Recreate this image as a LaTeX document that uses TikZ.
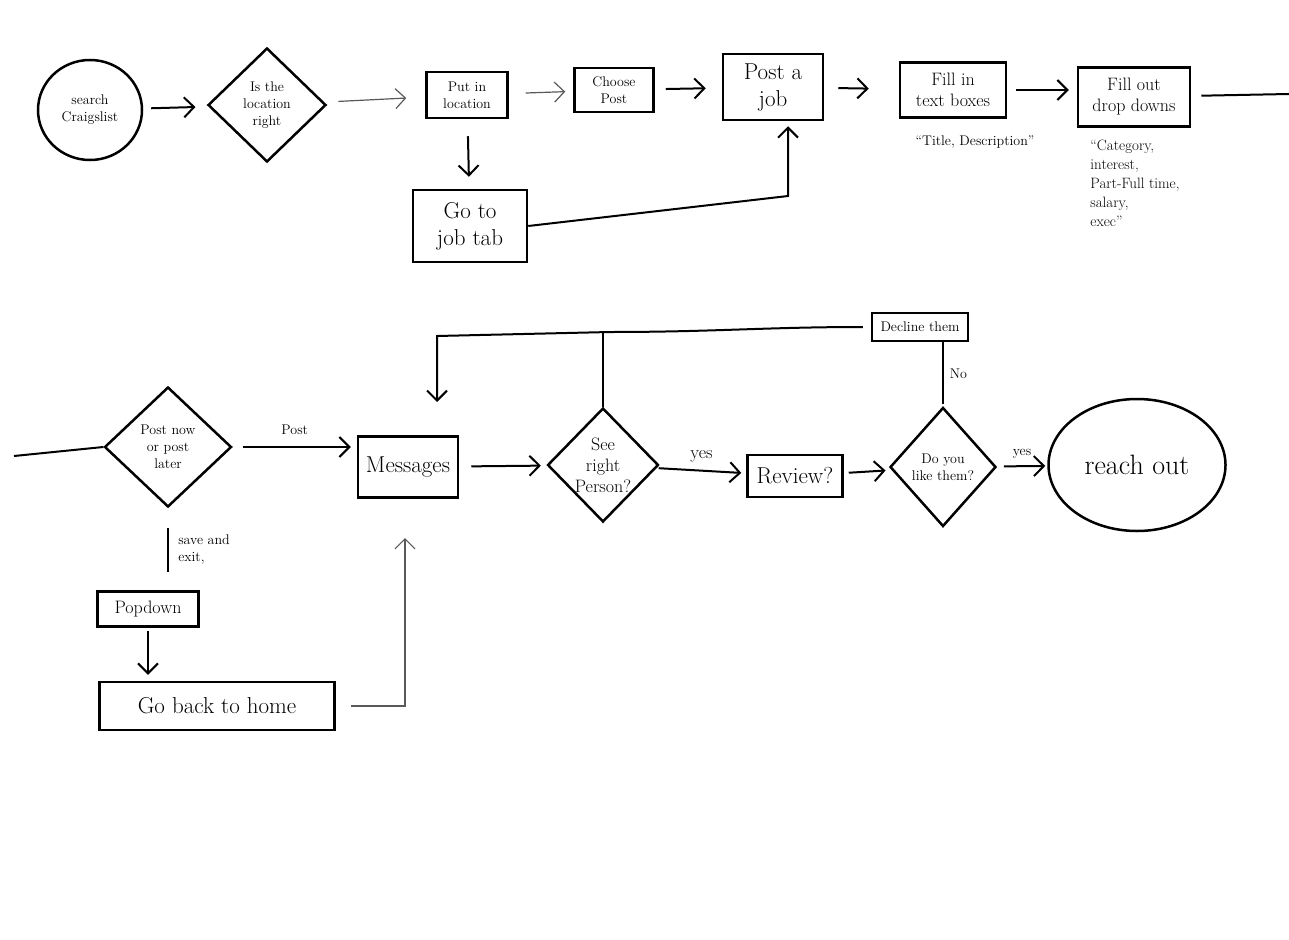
\documentclass[tikz,border=0pt]{standalone}
\usepackage{fontspec}
\usetikzlibrary{shapes.geometric,arrows.meta}
\tikzset{
  box/.style={draw,line width=2.5pt,align=center,inner sep=2pt},
  decision/.style={draw,diamond,line width=2.5pt,align=center,inner sep=0pt},
  bubble/.style={draw,ellipse,line width=2.5pt,align=center,inner sep=0pt},
  flow/.style={line width=2pt,-{Straight Barb[length=10pt,width=20pt,line width=2pt]}},
  faint/.style={line width=1.2pt,black!65,-{Straight Barb[length=10pt,width=20pt,line width=1.2pt]}},
  plain/.style={line width=2pt},
  txtS/.style={font=\fontsize{14}{17}\selectfont},
  txtM/.style={font=\fontsize{18}{21}\selectfont},
  txtL/.style={font=\fontsize{23}{27}\selectfont},
  note/.style={font=\fontsize{14}{17}\selectfont,align=left}
}
\begin{document}
\begin{tikzpicture}[x=1pt,y=-1pt]
\useasboundingbox (0,0) rectangle (1289,939);
%top row: posting the job
\node[bubble,txtS,minimum width=104pt,minimum height=100pt](search)at(90,110){search\\Craigslist};
\node[decision,txtS,minimum width=118pt,minimum height=114pt](loc)at(267,105){Is the\\location\\right};
\node[box,txtS,minimum width=81pt,minimum height=46pt](putin)at(467,95){Put in\\location};
\node[box,txtS,minimum width=79pt,minimum height=44pt](choose)at(614,90){Choose\\Post};
\node[box,txtL,minimum width=100pt,minimum height=66pt](postjob)at(773,87){Post a\\job};
\node[box,txtM,minimum width=106pt,minimum height=55pt](fillin)at(953,90){Fill in\\text boxes};
\node[box,txtM,minimum width=112pt,minimum height=59pt](fillout)at(1134,97){Fill out\\drop downs};
\node[box,txtL,minimum width=114pt,minimum height=72pt](gotojob)at(470,226){Go to\\job tab};
\node[note](titles)at(975,142){``Title, Description''};
\node[note,font=\fontsize{15}{19}\selectfont](fields)at(1135,183){``Category,\\ interest,\\ Part-Full time,\\ salary,\\ exec''};
\coordinate(outR)at(1289,94);
\coordinate(bendA)at(788,196);
\draw[flow,shorten <=8pt,shorten >=13pt](search)--(loc);
\draw[faint,shorten <=14pt,shorten >=19pt](loc)--(putin);
\draw[faint,shorten <=17pt,shorten >=8pt](putin)--(choose);
\draw[flow,shorten <=11pt,shorten >=16pt](choose)--(postjob);
\draw[flow,shorten <=14pt,shorten >=30pt](postjob)--(fillin);
\draw[flow,shorten <=9pt,shorten >=8pt](fillin.east)--(fillin.east-|fillout.west);
\draw[plain,shorten <=10pt](fillout)--(outR);
\draw[flow,shorten <=17pt,shorten >=12pt](putin)--(gotojob);
\draw[flow,shorten >=5pt](gotojob.east)--(bendA)--(bendA|-postjob.south);
%bottom row: messages and review
\node[decision,txtS,minimum width=127pt,minimum height=120pt](postnow)at(168,447){Post now\\or post\\later};
\node[box,txtL,minimum width=100pt,minimum height=61pt](messages)at(408,467){Messages};
\node[decision,txtM,minimum width=107pt,minimum height=114pt](seeright)at(603,465){See\\right\\Person?};
\node[box,txtL,minimum width=95pt,minimum height=42pt](review)at(795,476){Review?};
\node[decision,txtS,minimum width=106pt,minimum height=119pt](likethem)at(943,467){Do you\\like them?};
\node[bubble,font=\fontsize{28}{32}\selectfont,minimum width=177pt,minimum height=132pt](reach)at(1137,465){reach out};
\node[box,txtS,minimum width=96pt,minimum height=28pt](decline)at(920,327){Decline them};
\node[box,txtM,minimum width=101pt,minimum height=35pt](popdown)at(148,609){Popdown};
\node[box,txtL,minimum width=235pt,minimum height=48pt](gohome)at(217,706){Go back to home};
\coordinate(inL)at(14,456);
\coordinate(loopA)at(610,332);
\coordinate(loopB)at(437,336);
\coordinate(msgIn)at(437,402);
\coordinate(msgOut)at(405,538);
\draw[plain](inL)--(postnow.west);
\draw[flow,shorten <=10pt,shorten >=6pt](postnow.east)--node[above=8pt,txtS]{Post}(postnow.east-|messages.west);
\draw[flow,shorten <=12pt,shorten >=6pt](messages)--(seeright);
\draw[flow,shorten <=2pt,shorten >=5pt](seeright)--node[above=4pt,txtM]{yes}(review);
\draw[flow,shorten <=5pt,shorten >=6pt](review)--(likethem);
\draw[flow,shorten <=7pt,shorten >=2pt](likethem)--node[above=4pt,txtS]{yes}(reach);
\draw[line width=1.2pt,shorten <=2pt](likethem.north)--node[right=3pt,txtS]{No}(likethem.north|-decline.south);
\draw[flow,shorten <=8pt](decline.west)to[out=180,in=0](loopA)--(loopB)--(msgIn);
\draw[plain](seeright.north)--(seeright.north|-loopA);
\draw[plain,shorten <=20pt,shorten >=18pt](postnow.south)--node[right=6pt,txtS,align=left]{save and\\exit,}(postnow.south|-popdown.north);
\draw[flow,shorten <=3pt,shorten >=6pt](popdown.south)--(popdown.south|-gohome.north);
\draw[faint,shorten <=15pt](gohome.east)-|(msgOut);
\end{tikzpicture}
\end{document}
